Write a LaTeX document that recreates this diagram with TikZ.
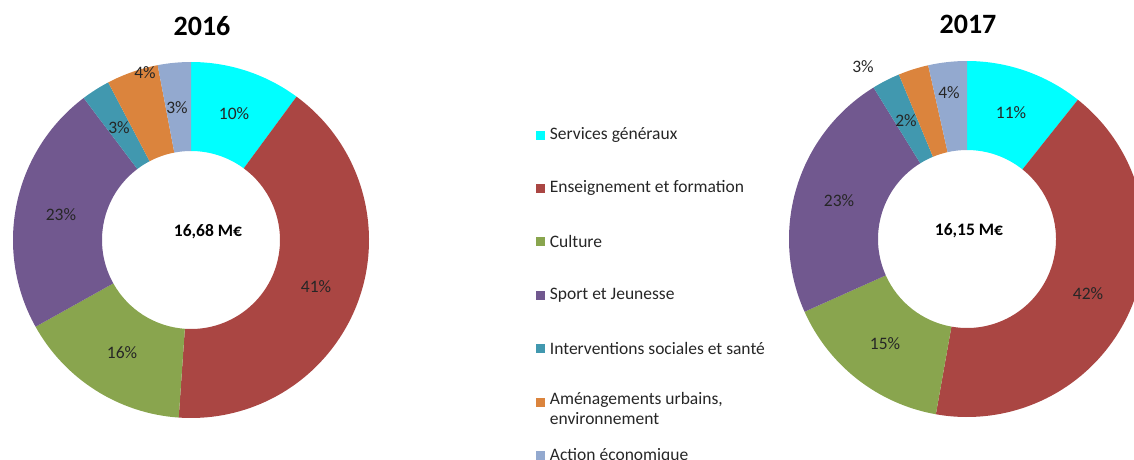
\documentclass[tikz,border=0pt]{standalone}
\usepackage{fontspec}
\setmainfont{Carlito}
\usepackage{tikz}
\usetikzlibrary{positioning}

\definecolor{services}{HTML}{00FFFF}
\definecolor{enseign}{HTML}{AA4643}
\definecolor{culture}{HTML}{89A54E}
\definecolor{sport}{HTML}{71588F}
\definecolor{social}{HTML}{4198AF}
\definecolor{amenag}{HTML}{DB843D}
\definecolor{action}{HTML}{93A9CF}
\definecolor{labelgray}{HTML}{262626}

\begin{document}
\begin{tikzpicture}[
    x=1pt, y=1pt,
    every node/.style={font=\fontsize{17.5}{20.5}\selectfont, text=labelgray, inner sep=1pt},
    title/.style={font=\fontsize{28}{32}\selectfont\bfseries, text=black},
    total/.style={font=\fontsize{17.5}{20.5}\selectfont\bfseries, text=black},
    legkey/.style={minimum size=9pt, inner sep=0pt},
    legtext/.style={anchor=west},
    node distance=44pt
]

    \useasboundingbox (0,0) rectangle (1134,459);
    \clip (0,0) rectangle (1134,459);

    % Donut 2016
    \fill[services, shift={(191,219)}] (90:178) arc[start angle=90, end angle=53.64, radius=178] -- (53.64:89) arc[start angle=53.64, end angle=90, radius=89] -- cycle;
    \fill[enseign, shift={(191,219)}] (53.64:178) arc[start angle=53.64, end angle=-93.96, radius=178] -- (-93.96:89) arc[start angle=-93.96, end angle=53.64, radius=89] -- cycle;
    \fill[culture, shift={(191,219)}] (-93.96:178) arc[start angle=-93.96, end angle=-150.84, radius=178] -- (-150.84:89) arc[start angle=-150.84, end angle=-93.96, radius=89] -- cycle;
    \fill[sport, shift={(191,219)}] (-150.84:178) arc[start angle=-150.84, end angle=-232.92, radius=178] -- (-232.92:89) arc[start angle=-232.92, end angle=-150.84, radius=89] -- cycle;
    \fill[social, shift={(191,219)}] (-232.92:178) arc[start angle=-232.92, end angle=-242.28, radius=178] -- (-242.28:89) arc[start angle=-242.28, end angle=-232.92, radius=89] -- cycle;
    \fill[amenag, shift={(191,219)}] (-242.28:178) arc[start angle=-242.28, end angle=-259.2, radius=178] -- (-259.2:89) arc[start angle=-259.2, end angle=-242.28, radius=89] -- cycle;
    \fill[action, shift={(191,219)}] (-259.2:178) arc[start angle=-259.2, end angle=-270, radius=178] -- (-270:89) arc[start angle=-270, end angle=-259.2, radius=89] -- cycle;

    % Donut 2017
    \fill[services, shift={(967,220)}] (90:178) arc[start angle=90, end angle=51.48, radius=178] -- (51.48:89) arc[start angle=51.48, end angle=90, radius=89] -- cycle;
    \fill[enseign, shift={(967,220)}] (51.48:178) arc[start angle=51.48, end angle=-100.08, radius=178] -- (-100.08:89) arc[start angle=-100.08, end angle=51.48, radius=89] -- cycle;
    \fill[culture, shift={(967,220)}] (-100.08:178) arc[start angle=-100.08, end angle=-155.88, radius=178] -- (-155.88:89) arc[start angle=-155.88, end angle=-100.08, radius=89] -- cycle;
    \fill[sport, shift={(967,220)}] (-155.88:178) arc[start angle=-155.88, end angle=-238.32, radius=178] -- (-238.32:89) arc[start angle=-238.32, end angle=-155.88, radius=89] -- cycle;
    \fill[social, shift={(967,220)}] (-238.32:178) arc[start angle=-238.32, end angle=-247.5, radius=178] -- (-247.5:89) arc[start angle=-247.5, end angle=-238.32, radius=89] -- cycle;
    \fill[amenag, shift={(967,220)}] (-247.5:178) arc[start angle=-247.5, end angle=-257.4, radius=178] -- (-257.4:89) arc[start angle=-257.4, end angle=-247.5, radius=89] -- cycle;
    \fill[action, shift={(967,220)}] (-257.4:178) arc[start angle=-257.4, end angle=-270, radius=178] -- (-270:89) arc[start angle=-270, end angle=-257.4, radius=89] -- cycle;

    % Titles and totals
    \node[title] (title16) at (202,433) {2016};
    \node[title] (title17) at (968,435) {2017};
    \node[total] (total16) at (208,227) {16,68 M€};
    \node[total] (total17) at (969,228) {16,15 M€};

    % Labels 2016
    \node (serv16) at (234,345) {10\%};
    \node (ens16) at (316,172) {41\%};
    \node (cult16) at (122,106) {16\%};
    \node (sport16) at (61,244) {23\%};
    \node (soc16) at (119,331) {3\%};
    \node (amen16) at (145,386) {4\%};
    \node (act16) at (177,351) {3\%};

    % Labels 2017
    \node (serv17) at (1011,346) {11\%};
    \node (ens17) at (1088,165) {42\%};
    \node (cult17) at (885,115) {15\%};
    \node (sport17) at (839,258) {23\%};
    \node (soc17) at (906,338) {2\%};
    \node (amen17) at (863,392) {3\%};
    \node (act17) at (949,366) {4\%};

    % Legend
    \node[legkey, fill=services] (key1) at (540,324) {};
    \node[legkey, fill=enseign, below=of key1] (key2) {};
    \node[legkey, fill=culture, below=of key2] (key3) {};
    \node[legkey, fill=sport, below=of key3] (key4) {};
    \node[legkey, fill=social, below=of key4] (key5) {};
    \node[legkey, fill=amenag, below=of key5] (key6) {};
    \node[legkey, fill=action, below=of key6] (key7) {};

    \node[right=4pt of key1] (leg1) {Services généraux};
    \node[right=4pt of key2] (leg2) {Enseignement et formation};
    \node[right=4pt of key3] (leg3) {Culture};
    \node[right=4pt of key4] (leg4) {Sport et Jeunesse};
    \node[right=4pt of key5] (leg5) {Interventions sociales et santé};
    \node[right=4pt of key6, anchor=north west, yshift=11pt, align=left] (leg6) {Aménagements urbains,\\environnement};
    \node[right=4pt of key7] (leg7) {Action économique};

\end{tikzpicture}
\end{document}
